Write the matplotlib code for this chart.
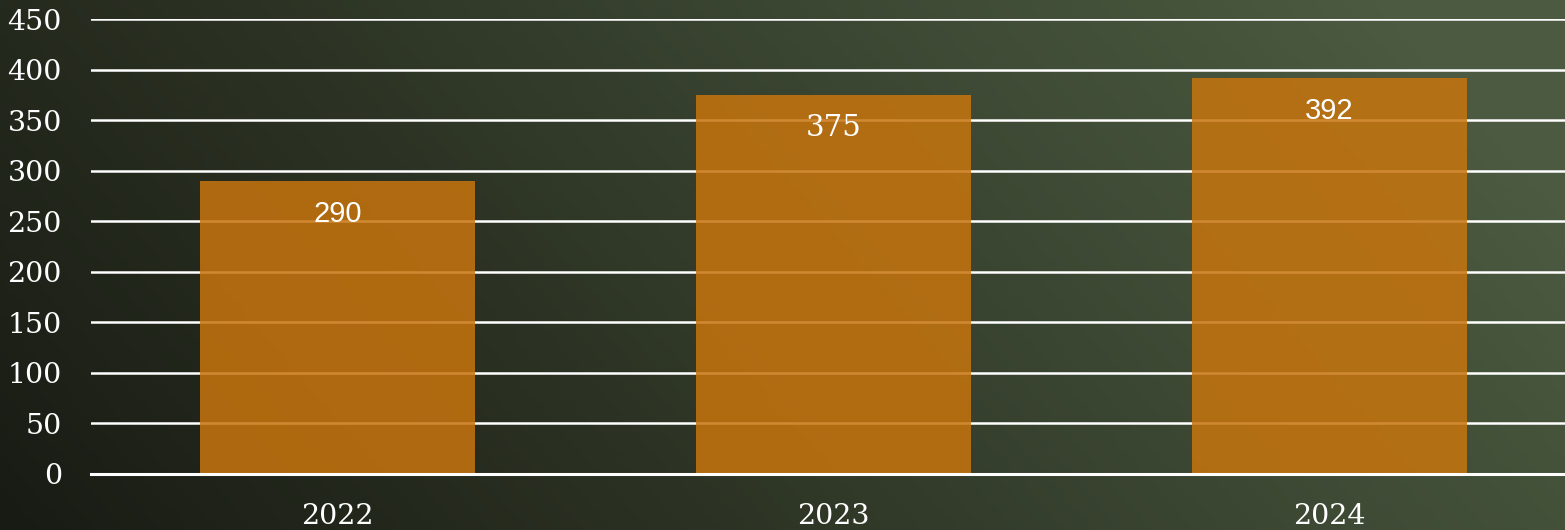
import matplotlib
matplotlib.use("Agg")
import matplotlib.pyplot as plt
import numpy as np
from matplotlib.colors import LinearSegmentedColormap

# dados
anos = ["2022", "2023", "2024"]
valores = [290, 375, 392]
yticks = [0, 50, 100, 150, 200, 250, 300, 350, 400, 450]

# fonte de cada rótulo (como na figura original)
fontes_rotulo = ["Liberation Sans", "DejaVu Serif", "Liberation Sans"]

fig = plt.figure(figsize=(15.65, 5.30), dpi=100)

# fundo em degradê (verde escuro)
bg = fig.add_axes([0, 0, 1, 1], zorder=-10)
xx, yy = np.meshgrid(np.linspace(0, 1, 400), np.linspace(0, 1, 140))
t = np.clip(0.85 * xx + 0.25 * yy, 0, 1)
cmap = LinearSegmentedColormap.from_list("fundo", ["#181b14", "#292f21", "#3b4632", "#4b5a40"])
bg.imshow(t, cmap=cmap, aspect="auto", origin="lower", extent=[0, 1, 0, 1])
bg.axis("off")

ax = fig.add_axes([91 / 1565, 56 / 530, 1 - 91 / 1565, 455 / 530])
ax.patch.set_alpha(0)

x = np.arange(len(anos))
ax.bar(x, valores, width=0.555, color="#c8750e", alpha=0.85, zorder=2)
ax.axhline(0, color="white", lw=2.2, zorder=3, clip_on=False)

for i, v in enumerate(valores):
    ax.annotate(str(v), (x[i], v), xytext=(0, -24), textcoords="offset points",
                ha="center", va="center", color="white", fontsize=21,
                family=fontes_rotulo[i], zorder=4)

ax.set_xlim(-0.497, 2.475)
ax.set_ylim(0, 450)
ax.set_yticks(yticks)
ax.set_xticks(x)
ax.set_xticklabels(anos)
ax.yaxis.grid(True, color="white", lw=1.8, zorder=1)
ax.set_axisbelow(True)
ax.tick_params(axis="both", length=0, colors="white", labelsize=20.5,
               labelfontfamily="DejaVu Serif")
ax.tick_params(axis="y", pad=21)
ax.tick_params(axis="x", pad=21)
for s in ax.spines.values():
    s.set_visible(False)

fig.savefig("out.png", dpi=100)
